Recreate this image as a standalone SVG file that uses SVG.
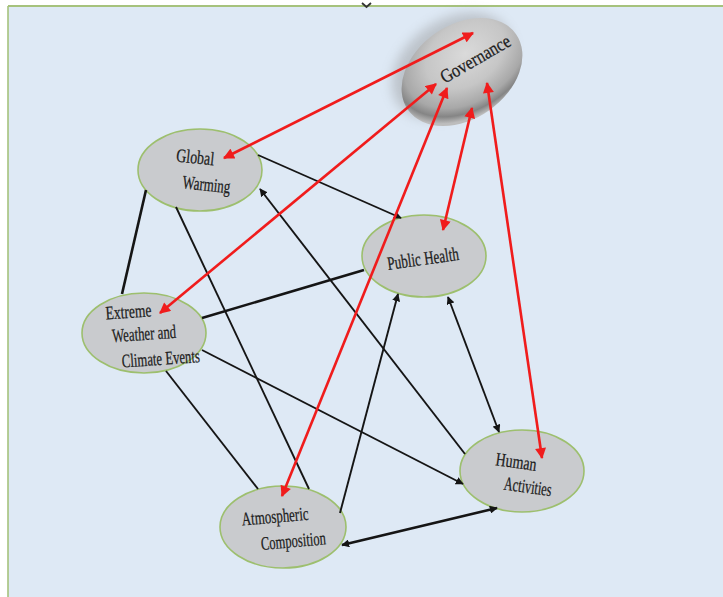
<svg xmlns="http://www.w3.org/2000/svg" width="723" height="597" viewBox="0 0 723 597">
<style>
.node{fill:#c9cbce;stroke:#9dbf6e;stroke-width:1.6}
.lbl{font-family:"Liberation Serif","Times New Roman",serif;font-size:19px;fill:#1c1c1c;stroke:#1c1c1c;stroke-width:0.25;text-anchor:middle}
.blk{stroke:#151515;stroke-width:1.9;fill:none}
.blkt{stroke:#151515;stroke-width:2.6;fill:none}
.red{stroke:#f01c1c;stroke-width:2.6;fill:none}
</style>
<defs>
<marker id="ab" viewBox="0 0 10 10" refX="9" refY="5" markerWidth="8" markerHeight="8" markerUnits="userSpaceOnUse" orient="auto-start-reverse"><path d="M0,0 L10,5 L0,10 z" fill="#151515"/></marker>
<marker id="ar" viewBox="0 0 10 10" refX="9" refY="5" markerWidth="12" markerHeight="11" markerUnits="userSpaceOnUse" orient="auto-start-reverse"><path d="M0,0 L10,5 L0,10 z" fill="#f01c1c"/></marker>
<radialGradient id="gov" cx="0.6" cy="0.36" r="0.65">
<stop offset="0" stop-color="#dadada"/>
<stop offset="0.5" stop-color="#c6c6c6"/>
<stop offset="0.78" stop-color="#a8a8a8"/>
<stop offset="0.9" stop-color="#858585"/>
<stop offset="1" stop-color="#bdbdbd"/>
</radialGradient>
<filter id="blur" x="-40%" y="-40%" width="180%" height="180%"><feGaussianBlur stdDeviation="6"/></filter>
</defs>
<rect x="0" y="0" width="723" height="597" fill="#ffffff"/>
<rect x="8" y="6" width="715" height="591" fill="#dee9f5"/>
<line x1="8" y1="6" x2="723" y2="6" stroke="#a6c27c" stroke-width="2"/>
<line x1="8" y1="6" x2="8" y2="597" stroke="#a6c27c" stroke-width="1.6"/>
<path d="M362,3 L366.5,7 L371,3" fill="none" stroke="#333" stroke-width="1.8"/>

<g id="node-governance">
<ellipse cx="452" cy="66" rx="66" ry="46" transform="rotate(-35 452 66)" fill="#8a8a8a" opacity="0.4" filter="url(#blur)"/>
<ellipse cx="462" cy="72" rx="66" ry="47" transform="rotate(-35 462 72)" fill="url(#gov)"/>
<text class="lbl" x="476" y="65" textLength="78" lengthAdjust="spacingAndGlyphs" transform="rotate(-30 476 60)">Governance</text>
</g>
<g id="node-global-warming">
<ellipse class="node" cx="200" cy="170" rx="62" ry="41"/>
<g transform="rotate(6 200 170)">
<text class="lbl" x="194" y="164" textLength="38" lengthAdjust="spacingAndGlyphs">Global</text>
<text class="lbl" x="208" y="190" textLength="48" lengthAdjust="spacingAndGlyphs">Warming</text>
</g>
</g>
<g id="node-extreme-weather">
<ellipse class="node" cx="144" cy="333" rx="62" ry="40"/>
<g transform="rotate(-4 144 333)">
<text class="lbl" x="130" y="317" textLength="46" lengthAdjust="spacingAndGlyphs">Extreme</text>
<text class="lbl" x="144" y="340" textLength="64" lengthAdjust="spacingAndGlyphs">Weather and</text>
<text class="lbl" x="159" y="366" textLength="78" lengthAdjust="spacingAndGlyphs">Climate Events</text>
</g>
</g>
<g id="node-public-health">
<ellipse class="node" cx="424" cy="256" rx="62" ry="41"/>
<text class="lbl" x="423" y="265" textLength="72" lengthAdjust="spacingAndGlyphs" transform="rotate(-8 423 258)">Public Health</text>
</g>
<g id="node-human-activities">
<ellipse class="node" cx="522" cy="471" rx="62" ry="41"/>
<g transform="rotate(8 522 471)">
<text class="lbl" x="515" y="469" textLength="41" lengthAdjust="spacingAndGlyphs">Human</text>
<text class="lbl" x="530" y="492" textLength="48" lengthAdjust="spacingAndGlyphs">Activities</text>
</g>
</g>
<g id="node-atmospheric-composition">
<ellipse class="node" cx="283" cy="527" rx="63" ry="41"/>
<g transform="rotate(-5 283 527)">
<text class="lbl" x="276" y="522" textLength="67" lengthAdjust="spacingAndGlyphs">Atmospheric</text>
<text class="lbl" x="292" y="548" textLength="65" lengthAdjust="spacingAndGlyphs">Composition</text>
</g>
</g>

<g id="connectors">
<line class="blk" x1="258" y1="155" x2="401" y2="218" marker-end="url(#ab)"/>
<line class="blk" x1="465" y1="454" x2="260" y2="189" marker-end="url(#ab)"/>
<line class="blkt" x1="146" y1="190" x2="122" y2="294"/>
<line class="blk" x1="176" y1="207" x2="309" y2="489"/>
<line class="blkt" x1="202" y1="318" x2="364" y2="270"/>
<line class="blk" x1="202" y1="350" x2="463" y2="484" marker-end="url(#ab)"/>
<line class="blk" x1="166" y1="371" x2="258" y2="489"/>
<line class="blk" x1="340" y1="513" x2="398" y2="294" marker-end="url(#ab)"/>
<line class="blk" x1="448" y1="297" x2="499" y2="432" marker-start="url(#ab)" marker-end="url(#ab)"/>
<line class="blkt" x1="342" y1="545" x2="497" y2="508" marker-start="url(#ab)" marker-end="url(#ab)"/>
<line class="red" x1="224" y1="158" x2="473" y2="33" marker-start="url(#ar)" marker-end="url(#ar)"/>
<line class="red" x1="160" y1="313" x2="436" y2="84" marker-start="url(#ar)" marker-end="url(#ar)"/>
<line class="red" x1="282" y1="496" x2="447" y2="88" marker-start="url(#ar)" marker-end="url(#ar)"/>
<line class="red" x1="443" y1="230" x2="472" y2="108" marker-start="url(#ar)" marker-end="url(#ar)"/>
<line class="red" x1="542" y1="458" x2="487" y2="83" marker-start="url(#ar)" marker-end="url(#ar)"/>
</g>
</svg>
